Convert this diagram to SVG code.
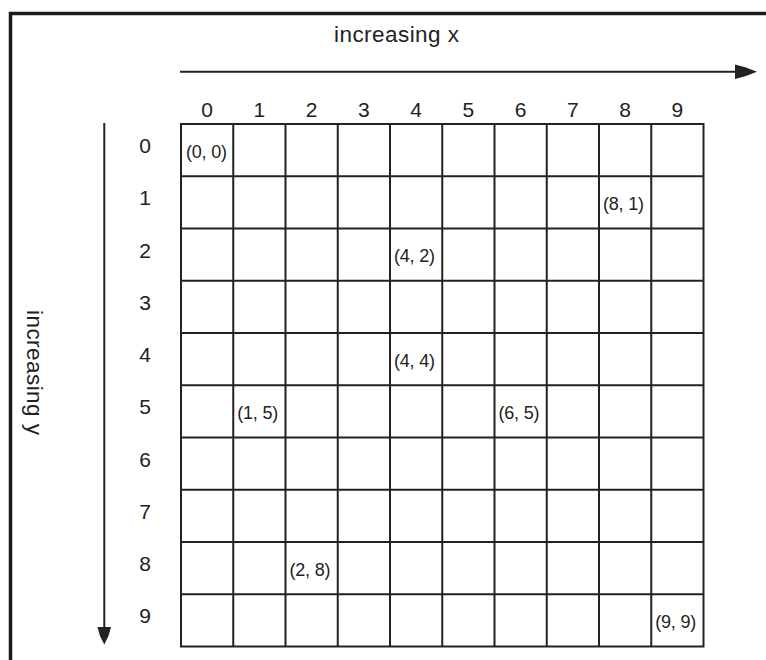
<svg xmlns="http://www.w3.org/2000/svg" width="766" height="660" viewBox="0 0 766 660">
<style>
.frame{stroke:#1a1a1a;stroke-width:3.5;fill:none}
.grid{stroke:#222;stroke-width:2;fill:none}
.axis{stroke:#222;stroke-width:2;fill:none}
.head{fill:#222;stroke:none}
.lbl{font-family:"Liberation Sans",Arial,sans-serif;font-size:21px;fill:#222;text-anchor:middle}
.title{font-family:"Liberation Sans",Arial,sans-serif;font-size:22.5px;fill:#222}
.cell{font-family:"Liberation Sans",Arial,sans-serif;font-size:18px;fill:#222}
</style>
<rect width="766" height="660" fill="#fff"/>
<g id="frame">
<path class="frame" d="M9,13.5 H766 M10.5,12 V660"/>
</g>
<g id="titles">
<text class="title" x="334" y="41.7" textLength="125" lengthAdjust="spacing">increasing x</text>
<text class="title" transform="translate(26.5,310) rotate(90)" x="0" y="0" textLength="125" lengthAdjust="spacing">increasing y</text>
</g>
<g id="connectors">
<line class="axis" x1="180" y1="71.7" x2="738" y2="71.7"/>
<polygon class="head" points="735,64.5 746,67.5 757,71.7 746,76 735,79"/>
<line class="axis" x1="104.3" y1="123" x2="104.3" y2="628"/>
<polygon class="head" points="97.5,627 111,627 108.5,636 104.3,644.5 100,636"/>
</g>
<g id="grid">
<path class="grid" d="M181,124 V646.5 M233.25,124 V646.5 M285.5,124 V646.5 M337.75,124 V646.5 M390,124 V646.5 M442.25,124 V646.5 M494.5,124 V646.5 M546.75,124 V646.5 M599,124 V646.5 M651.25,124 V646.5 M703.5,124 V646.5 M180,124 H704.5 M180,176.25 H704.5 M180,228.5 H704.5 M180,280.75 H704.5 M180,333 H704.5 M180,385.25 H704.5 M180,437.5 H704.5 M180,489.75 H704.5 M180,542 H704.5 M180,594.25 H704.5 M180,646.5 H704.5"/>
</g>
<g id="column-labels">
<text class="lbl" x="207.1" y="117">0</text>
<text class="lbl" x="259.4" y="117">1</text>
<text class="lbl" x="311.6" y="117">2</text>
<text class="lbl" x="363.9" y="117">3</text>
<text class="lbl" x="416.1" y="117">4</text>
<text class="lbl" x="468.4" y="117">5</text>
<text class="lbl" x="520.6" y="117">6</text>
<text class="lbl" x="572.9" y="117">7</text>
<text class="lbl" x="625.1" y="117">8</text>
<text class="lbl" x="677.4" y="117">9</text>
</g>
<g id="row-labels">
<text class="lbl" x="145" y="153">0</text>
<text class="lbl" x="145" y="205.25">1</text>
<text class="lbl" x="145" y="257.5">2</text>
<text class="lbl" x="145" y="309.75">3</text>
<text class="lbl" x="145" y="362">4</text>
<text class="lbl" x="145" y="414.25">5</text>
<text class="lbl" x="145" y="466.5">6</text>
<text class="lbl" x="145" y="518.75">7</text>
<text class="lbl" x="145" y="571">8</text>
<text class="lbl" x="145" y="623.25">9</text>
</g>
<g id="cell-0-0"><text class="cell" x="186" y="157.6" textLength="41" lengthAdjust="spacing">(0, 0)</text></g>
<g id="cell-8-1"><text class="cell" x="603" y="209.9" textLength="41" lengthAdjust="spacing">(8, 1)</text></g>
<g id="cell-4-2"><text class="cell" x="394" y="262.1" textLength="41" lengthAdjust="spacing">(4, 2)</text></g>
<g id="cell-4-4"><text class="cell" x="394" y="366.6" textLength="41" lengthAdjust="spacing">(4, 4)</text></g>
<g id="cell-1-5"><text class="cell" x="237.25" y="418.9" textLength="41" lengthAdjust="spacing">(1, 5)</text></g>
<g id="cell-6-5"><text class="cell" x="498.5" y="418.9" textLength="41" lengthAdjust="spacing">(6, 5)</text></g>
<g id="cell-2-8"><text class="cell" x="289.5" y="575.6" textLength="41" lengthAdjust="spacing">(2, 8)</text></g>
<g id="cell-9-9"><text class="cell" x="655.25" y="627.9" textLength="41" lengthAdjust="spacing">(9, 9)</text></g>
</svg>
